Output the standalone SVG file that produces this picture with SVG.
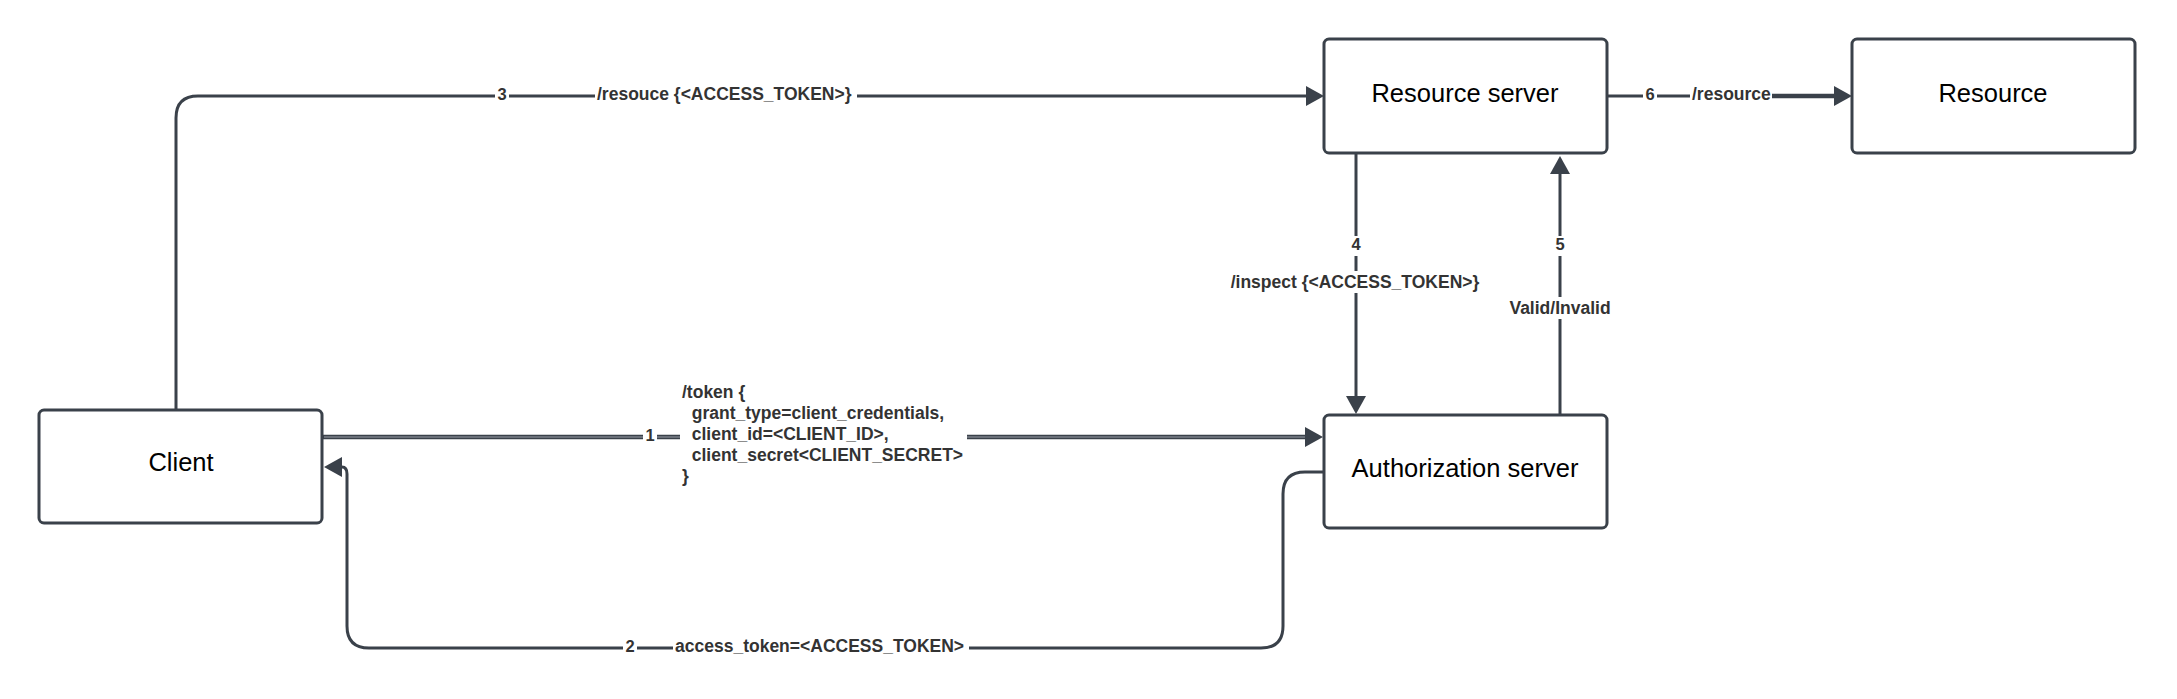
<svg xmlns="http://www.w3.org/2000/svg" width="2177" height="699" viewBox="0 0 2177 699">
  <style>
    .box { fill: #ffffff; stroke: #3a414a; stroke-width: 3; }
    .ntext { font-family: "Liberation Sans", Arial, sans-serif; font-size: 25.5px; fill: #000000; text-anchor: middle; }
    .conn { fill: none; stroke: #3a414a; stroke-width: 3; }
    .dbl { fill: none; stroke: #3a414a; stroke-width: 4.5; }
    .dblin { fill: none; stroke: #9aa0a8; stroke-width: 1; }
    .lbl { font-family: "Liberation Sans", Arial, sans-serif; font-size: 17.5px; font-weight: bold; fill: #333333; }
    .num { font-family: "Liberation Sans", Arial, sans-serif; font-size: 16.5px; font-weight: bold; fill: #333333; text-anchor: middle; }
    .bg { fill: #ffffff; }
  </style>
  <defs>
    <marker id="arrow" markerUnits="userSpaceOnUse" viewBox="0 -10 18 20" refX="2" refY="0" markerWidth="18" markerHeight="20" orient="auto">
      <path d="M0,-10 L18,0 L0,10 z" fill="#3a414a"/>
    </marker>
  </defs>
  <rect width="2177" height="699" fill="#ffffff"/>

  <g id="connectors">
    <!-- 1: Client -> Authorization server -->
    <path class="dbl" d="M322,437 L1307,437" marker-end="url(#arrow)"/>
    <path class="dblin" d="M324,437 L1305,437"/>
    <!-- 2: Authorization server -> Client -->
    <path class="conn" d="M1324,472 L1305,472 Q1283,472 1283,494 L1283,626 Q1283,648 1261,648 L369,648 Q347,648 347,626 L347,474 Q347,467 342,467 L340,467" marker-end="url(#arrow)"/>
    <!-- 3: Client -> Resource server -->
    <path class="conn" d="M176,410 L176,118 Q176,96 198,96 L1308,96" marker-end="url(#arrow)"/>
    <!-- 4: Resource server -> Authorization server -->
    <path class="conn" d="M1356,153 L1356,398" marker-end="url(#arrow)"/>
    <!-- 5: Authorization server -> Resource server -->
    <path class="conn" d="M1560,415 L1560,172" marker-end="url(#arrow)"/>
    <!-- 6: Resource server -> Resource -->
    <path class="conn" d="M1607,96 L1836,96" marker-end="url(#arrow)"/>
    <path class="dbl" d="M1772,96 L1836,96"/>

    <!-- labels -->
    <rect class="bg" x="495" y="86" width="14" height="20"/>
    <text class="num" x="502" y="100">3</text>
    <rect class="bg" x="595" y="85" width="262" height="22"/>
    <text class="lbl" x="597" y="100">/resouce {&lt;ACCESS_TOKEN&gt;}</text>

    <rect class="bg" x="643" y="427" width="14" height="20"/>
    <text class="num" x="650" y="441">1</text>
    <rect class="bg" x="680" y="383" width="287" height="108"/>
    <text class="lbl" x="682" y="398" xml:space="preserve">/token {</text>
    <text class="lbl" x="682" y="419" xml:space="preserve">  grant_type=client_credentials,</text>
    <text class="lbl" x="682" y="440" xml:space="preserve">  client_id=&lt;CLIENT_ID&gt;,</text>
    <text class="lbl" x="682" y="461" xml:space="preserve">  client_secret&lt;CLIENT_SECRET&gt;</text>
    <text class="lbl" x="682" y="482" xml:space="preserve">}</text>

    <rect class="bg" x="623" y="638" width="14" height="20"/>
    <text class="num" x="630" y="652">2</text>
    <rect class="bg" x="673" y="637" width="296" height="22"/>
    <text class="lbl" x="675" y="652">access_token=&lt;ACCESS_TOKEN&gt;</text>

    <rect class="bg" x="1348" y="236" width="16" height="20"/>
    <text class="num" x="1356" y="250">4</text>
    <rect class="bg" x="1226" y="271" width="258" height="22"/>
    <text class="lbl" x="1355" y="288" text-anchor="middle">/inspect {&lt;ACCESS_TOKEN&gt;}</text>

    <rect class="bg" x="1552" y="236" width="16" height="20"/>
    <text class="num" x="1560" y="250">5</text>
    <rect class="bg" x="1507" y="297" width="107" height="22"/>
    <text class="lbl" x="1560" y="314" text-anchor="middle">Valid/Invalid</text>

    <rect class="bg" x="1643" y="86" width="14" height="20"/>
    <text class="num" x="1650" y="100">6</text>
    <rect class="bg" x="1690" y="85" width="82" height="22"/>
    <text class="lbl" x="1692" y="100">/resource</text>
  </g>

  <g id="client">
    <rect class="box" x="39" y="410" width="283" height="113" rx="5"/>
    <text class="ntext" x="181" y="471">Client</text>
  </g>
  <g id="authorization-server">
    <rect class="box" x="1324" y="415" width="283" height="113" rx="5"/>
    <text class="ntext" x="1465" y="477">Authorization server</text>
  </g>
  <g id="resource-server">
    <rect class="box" x="1324" y="39" width="283" height="114" rx="5"/>
    <text class="ntext" x="1465" y="102">Resource server</text>
  </g>
  <g id="resource">
    <rect class="box" x="1852" y="39" width="283" height="114" rx="5"/>
    <text class="ntext" x="1993" y="102">Resource</text>
  </g>
</svg>
